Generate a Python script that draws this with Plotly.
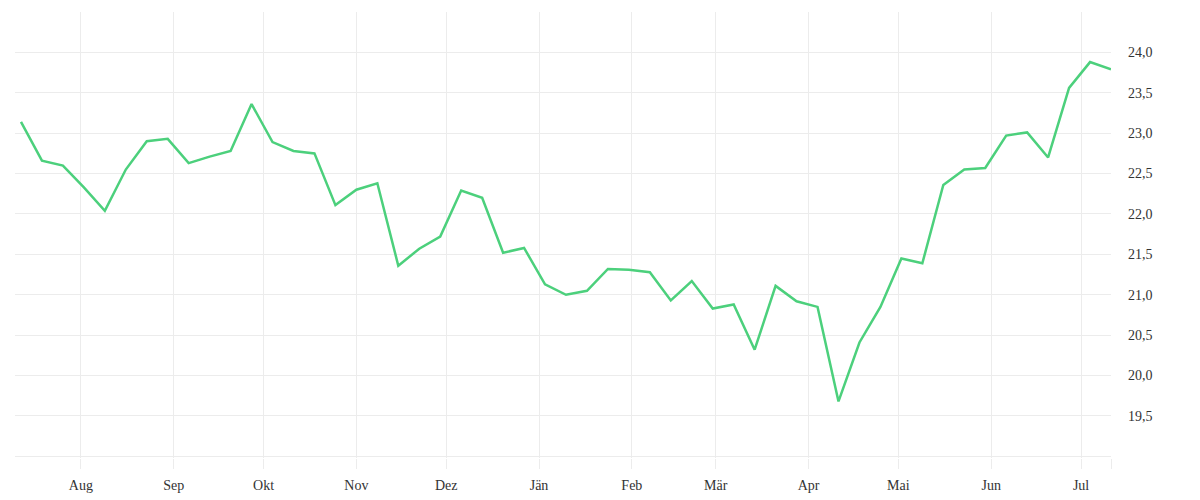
#!/usr/bin/python3

import pandas as pd
import plotly.graph_objects as go


# weekly values
START = "2022-07-12"
VALUES = [
    23.14, 22.66, 22.60, 22.33, 22.04, 22.55, 22.90, 22.93, 22.63, 22.71,
    22.78, 23.36, 22.89, 22.78, 22.75, 22.11, 22.30, 22.38, 21.36, 21.57,
    21.72, 22.29, 22.20, 21.52, 21.58, 21.13, 21.00, 21.05, 21.32, 21.31,
    21.28, 20.93, 21.17, 20.83, 20.88, 20.32, 21.11, 20.92, 20.85, 19.68,
    20.41, 20.85, 21.45, 21.39, 22.36, 22.55, 22.57, 22.97, 23.01, 22.70,
    23.56, 23.88, 23.79,
]

MONTH_TICKS = [
    "2022-08-01", "2022-09-01", "2022-10-01", "2022-11-01", "2022-12-01",
    "2023-01-01", "2023-02-01", "2023-03-01", "2023-04-01", "2023-05-01",
    "2023-06-01", "2023-07-01",
]
MONTH_LABELS = ["Aug", "Sep", "Okt", "Nov", "Dez", "Jän", "Feb", "Mär", "Apr", "Mai", "Jun", "Jul"]

Y_TICKS = [19.0, 19.5, 20.0, 20.5, 21.0, 21.5, 22.0, 22.5, 23.0, 23.5, 24.0]

GRID = "#ececec"
FONT = "Liberation Serif"


def main():
    dates = pd.date_range(start=START, periods=len(VALUES), freq="7D")

    fig = go.Figure()
    fig.add_trace(go.Scatter(
        x=dates,
        y=VALUES,
        mode="lines",
        line=dict(color="#4cd07c", width=2.5),
        hovertemplate="%{x|%d.%m.%Y}: %{y:.2f}<extra></extra>",
    ))

    # last data point gets a tick without label -> closing line on the right
    x_ticks = MONTH_TICKS + [dates[-1]]
    x_labels = MONTH_LABELS + [""]

    # page body has an 8px margin, so the figure is a bit smaller than the window
    fig.update_layout(
        width=1192,
        height=492,
        margin=dict(l=7, r=89, t=4, b=42),
        plot_bgcolor="white",
        paper_bgcolor="white",
        showlegend=False,
        separators=",.",
        font=dict(family=FONT, size=14, color="#333333"),
    )
    fig.update_xaxes(
        range=[dates[0] - pd.Timedelta(days=2), dates[-1]],
        tickvals=x_ticks,
        ticktext=x_labels,
        showgrid=True,
        gridcolor=GRID,
        ticks="outside",
        ticklen=10,
        tickcolor=GRID,
        ticklabelstandoff=4,
        showline=False,
        zeroline=False,
    )
    fig.update_yaxes(
        side="right",
        range=[18.98, 24.5],
        tickvals=Y_TICKS,
        ticktext=["" if v == 19.0 else f"{v:.1f}".replace(".", ",") for v in Y_TICKS],
        showgrid=True,
        gridcolor=GRID,
        ticks="",
        ticklabelstandoff=16,
        showline=False,
        zeroline=False,
    )

    fig.write_html("out.html")


if __name__ == "__main__":
    main()
